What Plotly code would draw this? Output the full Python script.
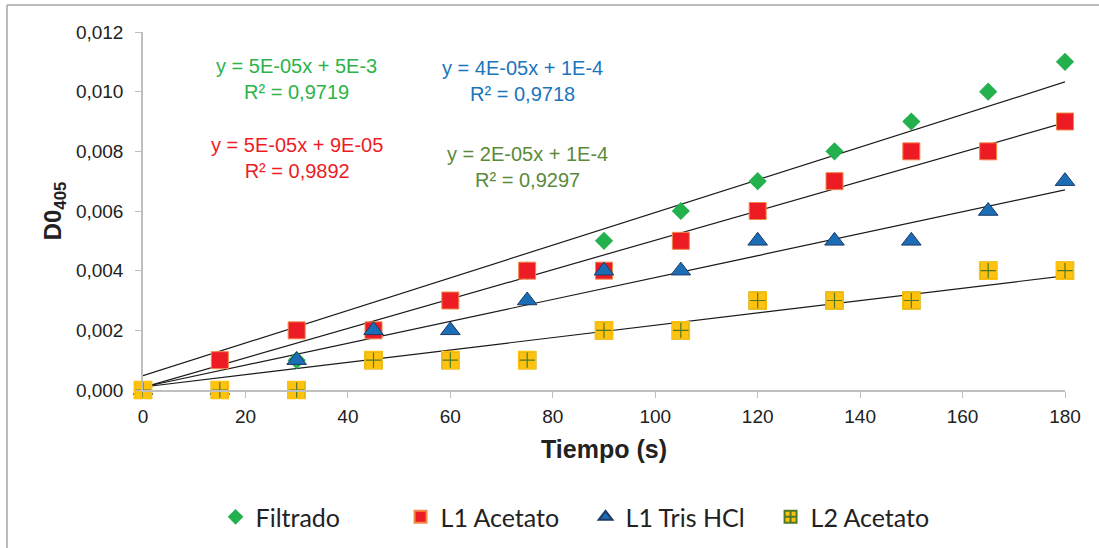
import plotly.graph_objects as go

tiempo = [0, 15, 30, 45, 60, 75, 90, 105, 120, 135, 150, 165, 180]
filtrado = [0.000, 0.001, 0.001, 0.002, 0.003, 0.004, 0.005, 0.006, 0.007, 0.008, 0.009, 0.010, 0.011]
l1_acetato = [0.000, 0.001, 0.002, 0.002, 0.003, 0.004, 0.004, 0.005, 0.006, 0.007, 0.008, 0.008, 0.009]
l1_tris = [0.000, 0.000, 0.001, 0.002, 0.002, 0.003, 0.004, 0.004, 0.005, 0.005, 0.005, 0.006, 0.007]
l2_acetato = [0.000, 0.000, 0.000, 0.001, 0.001, 0.001, 0.002, 0.002, 0.003, 0.003, 0.003, 0.004, 0.004]

# trendline coefficients as drawn in the picture
trend_slope = [5.47e-5, 4.93e-5, 3.67e-5, 2.07e-5]
trend_intercept = [4.8e-4, 9e-5, 1e-4, 1e-4]
trend_x = [0, 180]

eq_text = ["y = 5E-05x + 5E-3<br>R² = 0,9719",
           "y = 5E-05x + 9E-05<br>R² = 0,9892",
           "y = 4E-05x + 1E-4<br>R² = 0,9718",
           "y = 2E-05x + 1E-4<br>R² = 0,9297"]
eq_color = ["#2DB34A", "#ED1C24", "#1B75BB", "#5A8A3A"]
eq_x = [30, 30, 74, 75]
eq_y = [0.01042, 0.00778, 0.01036, 0.00749]

x_ticks = [0, 20, 40, 60, 80, 100, 120, 140, 160, 180]
y_ticks = [0.000, 0.002, 0.004, 0.006, 0.008, 0.010, 0.012]

fig = go.Figure()

for s, b in zip(trend_slope, trend_intercept):
    fig.add_trace(go.Scatter(x=trend_x, y=[b + s * xx for xx in trend_x], mode="lines",
                             line=dict(color="#1a1a1a", width=1.2), showlegend=False,
                             hoverinfo="skip"))

fig.add_trace(go.Scatter(x=tiempo, y=filtrado, mode="markers", name="Filtrado",
                         marker=dict(symbol="diamond", size=14, color="#22B14C",
                                     line=dict(width=0))))
fig.add_trace(go.Scatter(x=tiempo, y=l1_acetato, mode="markers", name="L1 Acetato",
                         marker=dict(symbol="square", size=17, color="#ED1C24",
                                     line=dict(width=1, color="#F08A4B"))))
fig.add_trace(go.Scatter(x=tiempo, y=l1_tris, mode="markers", name="L1 Tris HCl",
                         marker=dict(symbol="triangle-up", size=17, color="#1B6DB5",
                                     line=dict(width=1, color="#1F3B63"))))
fig.add_trace(go.Scatter(x=tiempo, y=l2_acetato, mode="markers", name="L2 Acetato",
                         marker=dict(symbol="square-cross", size=17, color="#FFC20E",
                                     line=dict(width=1.2, color="#4E7A2A"))))
fig.add_trace(go.Scatter(x=tiempo, y=l2_acetato, mode="markers", showlegend=False,
                         hoverinfo="skip",
                         marker=dict(symbol="square-open", size=17, color="#FFC20E",
                                     line=dict(width=1.6, color="#FFC20E"))))

for t, c, xx, yy in zip(eq_text, eq_color, eq_x, eq_y):
    fig.add_annotation(x=xx, y=yy, text=t, showarrow=False, xanchor="center",
                       yanchor="middle", font=dict(size=20, color=c,
                                                   family="Liberation Sans, Arial"))

fig.update_traces(cliponaxis=False)

fig.update_layout(
    width=1099, height=548,
    margin=dict(l=143, r=34, t=32, b=158, autoexpand=False),
    paper_bgcolor="white", plot_bgcolor="white",
    font=dict(family="Liberation Sans, Arial", size=19, color="#222"),
    separators=",.",
    showlegend=True,
    legend=dict(orientation="h", x=0.48, xanchor="center", y=-0.355, yanchor="middle",
                font=dict(family="Lato, Carlito, sans-serif", size=25, color="#222"),
                itemsizing="constant", traceorder="normal", entrywidth=140),
    xaxis=dict(range=[0, 180], tickvals=x_ticks, showgrid=False, zeroline=False,
               showline=True, linecolor="#BFBFBF", linewidth=1.5, automargin=False,
               ticks="outside", ticklen=6, tickcolor="#BFBFBF",
               tickfont=dict(size=19, color="#222"), ticklabelstandoff=2,
               title=dict(text="<b>Tiempo (s)</b>", font=dict(size=25, color="#222"),
                          standoff=15)),
    yaxis=dict(range=[0, 0.012], tickvals=y_ticks, tickformat=".3f", showgrid=False,
               zeroline=False, showline=True, linecolor="#BFBFBF", linewidth=1.5,
               automargin=False,
               ticks="outside", ticklen=6, tickcolor="#BFBFBF",
               tickfont=dict(size=19, color="#222"), ticklabelstandoff=8,
               title=dict(text="<b>D0<sub>405</sub></b>", font=dict(size=24, color="#222"),
                          standoff=8)),
    shapes=[
        dict(type="line", xref="paper", yref="paper", x0=-0.1475, x1=1.04, y0=1.0754,
             y1=1.0754, line=dict(color="#A6A6A6", width=1.5)),
        dict(type="line", xref="paper", yref="paper", x0=-0.1475, x1=-0.1475, y0=1.0754,
             y1=-0.45, line=dict(color="#A6A6A6", width=1.5)),
    ],
)

fig.write_html("out.html", post_script="document.body.style.margin='0';",
               config={"displayModeBar": False})
